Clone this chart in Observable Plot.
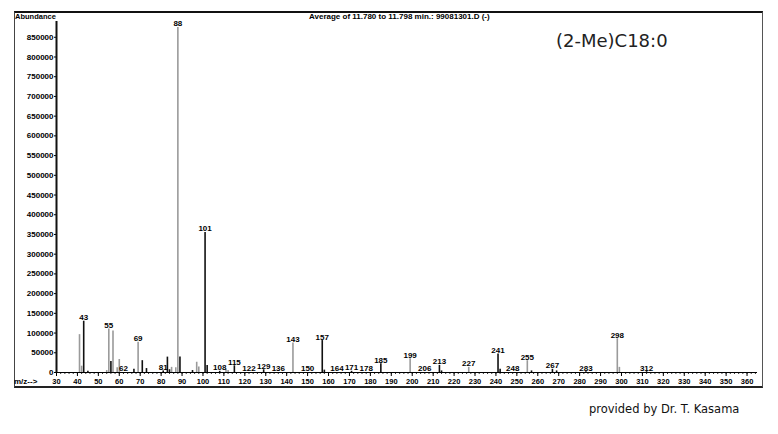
<!DOCTYPE html>
<html><head><meta charset="utf-8">
<script src="https://cdn.jsdelivr.net/npm/d3@7"></script>
<script src="https://cdn.jsdelivr.net/npm/@observablehq/plot@0.6"></script>
<style>
body{margin:0;background:#fff;}
#wrap{position:relative;width:778px;height:434px;overflow:hidden;font-family:"Liberation Sans",Arial,sans-serif;background:#fff;}
#chart{position:absolute;left:0;top:0;}
#frame{position:absolute;left:14px;top:11px;width:749px;height:377px;border-top:2px solid #111;border-left:1px solid #444;border-right:1.5px solid #555;border-bottom:2px solid #222;box-sizing:border-box;pointer-events:none;}
.t{position:absolute;white-space:nowrap;color:#000;}
#abund{left:15px;top:12px;font-size:7.5px;font-weight:bold;}
#title{left:309px;top:12px;font-size:8px;font-weight:bold;}
#name{left:556px;top:30px;font-family:"DejaVu Sans",sans-serif;font-size:18px;color:#222;}
#mz{left:14px;top:377px;font-size:8px;font-weight:bold;}
#credit{left:589px;top:402px;font-family:"DejaVu Sans",sans-serif;font-size:11.5px;color:#111;}
</style>
</head><body>
<div id="wrap">
<div id="chart"></div>
<div id="frame"></div>
<div class="t" id="abund">Abundance</div>
<div class="t" id="title">Average of 11.780 to 11.798 min.: 99081301.D (-)</div>
<div class="t" id="name">(2-Me)C18:0</div>
<div class="t" id="mz">m/z--&gt;</div>
<div class="t" id="credit">provided by Dr. T. Kasama</div>
</div>
<script>
// dark (black) peaks: m/z and abundance
const darkMz = [43, 45, 56, 67, 71, 73, 81, 83, 84, 89, 95, 101, 102, 108, 115, 129, 157, 158, 171, 185, 213, 214, 241, 242, 257, 267, 269, 283, 312];
const darkAb = [130000, 3000, 28000, 8000, 30000, 10000, 4000, 39000, 7000, 39000, 5000, 355000, 18000, 3000, 17000, 7000, 81000, 6000, 3000, 22000, 18000, 4000, 47000, 8000, 4000, 8000, 4000, 2000, 2000];
// grey peaks
const greyMz = [41, 42, 54, 55, 57, 59, 60, 69, 85, 87, 88, 97, 98, 111, 112, 143, 199, 227, 255, 298, 299];
const greyAb = [96000, 16000, 5000, 110000, 105000, 12000, 33000, 77000, 13000, 12000, 875000, 26000, 14000, 7000, 5000, 75000, 35000, 13000, 30000, 85500, 13000];
// labelled m/z values
const labelMz = [43, 55, 62, 69, 81, 88, 101, 108, 115, 122, 129, 136, 143, 150, 157, 164, 171, 178, 185, 199, 206, 213, 227, 241, 248, 255, 267, 283, 298, 312];
// axis ticks
const xTicks = d3.range(30, 361, 10);
const xMinor = d3.range(30, 365, 2);
const yTicks = d3.range(0, 850001, 50000);

const dark = darkMz.map((m, i) => ({mz: m, ab: darkAb[i]}));
const grey = greyMz.map((m, i) => ({mz: m, ab: greyAb[i]}));
const lookup = new Map([...dark, ...grey].map(d => [d.mz, d.ab]));
const labels = labelMz.map(m => ({mz: m, ab: lookup.get(m) ?? 1500}));

const chart = Plot.plot({
  width: 778, height: 434,
  marginLeft: 56, marginRight: 21, marginTop: 21, marginBottom: 62,
  x: {domain: [30, 365]},
  y: {domain: [0, 890000]},
  style: {fontFamily: "Liberation Sans, Arial, sans-serif", fontWeight: "bold", fontSize: "8px", background: "transparent", color: "#000"},
  marks: [
    Plot.axisY({ticks: yTicks, tickFormat: d => String(d), tickSize: 2, tickPadding: 1, label: null, fontSize: 8}),
    Plot.axisX({ticks: xTicks, tickFormat: d => String(d), tickSize: 4, tickPadding: 2, label: null, fontSize: 7.5}),
    Plot.axisX({ticks: xMinor, tickFormat: () => "", tickSize: 2, label: null, strokeOpacity: 0.8}),
    Plot.ruleY([0], {stroke: "#000", strokeWidth: 1}),
    Plot.ruleX([30], {stroke: "#111", strokeWidth: 2}),
    Plot.ruleX(grey, {x: "mz", y1: 0, y2: "ab", stroke: "#9a9a9a", strokeWidth: 1.6}),
    Plot.ruleX(dark, {x: "mz", y1: 0, y2: "ab", stroke: "#111", strokeWidth: 1.6}),
    Plot.text(labels, {x: "mz", y: "ab", text: d => String(d.mz), lineAnchor: "bottom", dy: -1, fontSize: 8, fontWeight: "bold", fill: "#000"})
  ]
});
document.getElementById("chart").appendChild(chart);
</script>
</body></html>
